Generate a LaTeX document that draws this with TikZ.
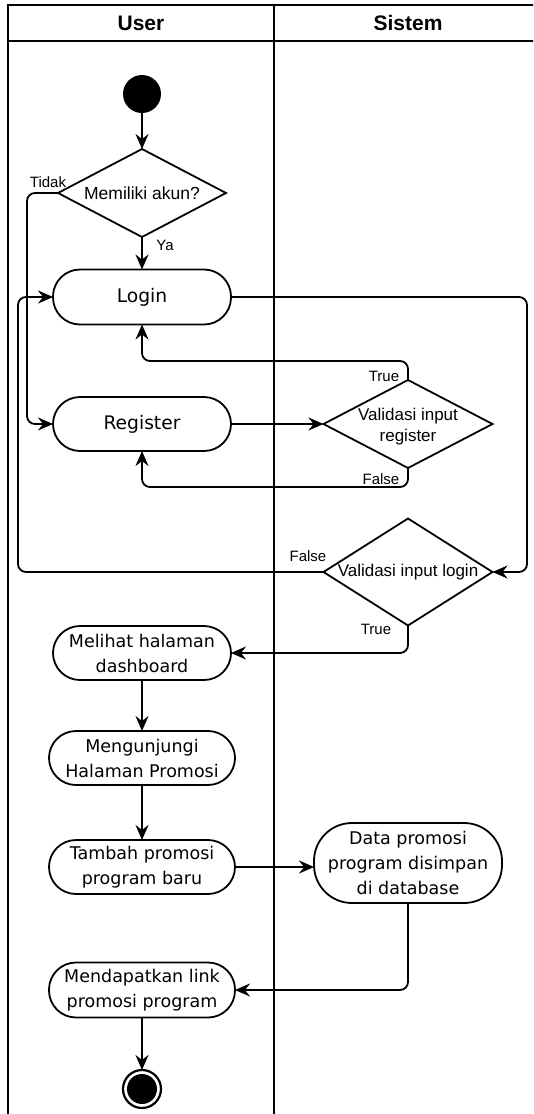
\documentclass[tikz,border=0pt]{standalone}
\usepackage{fontspec}
\setmainfont{Liberation Sans}
\newfontfamily\dejavu{DejaVu Sans}
\usetikzlibrary{arrows.meta}
\begin{document}
\begin{tikzpicture}[x=1pt,y=-1pt,
  line width=1.8pt,
  every node/.style={inner sep=0pt, outer sep=0pt},
  flow/.style={-{Stealth[length=15pt,width=13pt,inset=5pt]}, rounded corners=8pt},
  action/.style={draw, rounded corners=27pt, minimum height=54pt, align=center,
    font=\dejavu\fontsize{17.5}{25}\selectfont},
  bigaction/.style={action, font=\dejavu\fontsize{18.7}{22}\selectfont},
  decision/.style={minimum width=168pt, minimum height=88pt, align=center,
    font=\fontsize{17}{21}\selectfont},
  lbl/.style={font=\fontsize{15}{18}\selectfont},
  head/.style={font=\bfseries\fontsize{21}{25}\selectfont}]

\clip (0,0) rectangle (533,1114);

% swimlane frame
\draw (8,5) rectangle (542,1120);
\draw (8,41) -- (542,41);
\draw (274,5) -- (274,1120);
\node[head] (hUser) at (141,23) {User};
\node[head] (hSistem) at (408,23) {Sistem};

% helper columns for the loop-back connectors
\coordinate (lx) at (27,0);
\coordinate (fx) at (18,0);
\coordinate (rx) at (527,0);

% start
\node[circle, fill=black, minimum size=38pt] (start) at (142,94) {};

% decision: account
\node[decision, font=\fontsize{17.5}{21}\selectfont] (d1) at (142,193) {Memiliki akun?};
\draw (d1.north) -- (d1.east) -- (d1.south) -- (d1.west) -- cycle;

% login / register
\node[bigaction, minimum width=178pt, minimum height=55pt] (login) at (142,297) {Login};
\node[bigaction, minimum width=178pt] (register) at (142,424) {Register};

% decision: register validation
\node[decision, minimum width=169pt] (d2) at (408,424) {};
\draw (d2.north) -- (d2.east) -- (d2.south) -- (d2.west) -- cycle;
\node[decision, minimum width=0pt, minimum height=0pt] (d2text) at ([yshift=-3pt]d2.center) {Validasi input\\register};

% decision: login validation
\node[decision, minimum width=169pt, minimum height=107pt] (d3) at (408,572) {Validasi input login};
\draw (d3.north) -- (d3.east) -- (d3.south) -- (d3.west) -- cycle;

% activities
\node[action, minimum width=178pt] (melihat) at (142,653) {Melihat halaman\\dashboard};
\node[action, minimum width=186pt] (kunjungi) at (142,758) {Mengunjungi\\Halaman Promosi};
\node[action, minimum width=186pt] (tambah) at (142,867) {Tambah promosi\\program baru};
\node[action, minimum width=188pt, minimum height=80pt, rounded corners=38pt] (data) at (408,863) {Data promosi\\program disimpan\\di database};
\node[action, minimum width=186pt, minimum height=55pt] (mend) at (142,990) {Mendapatkan link\\promosi program};

% end
\node[circle, draw, line width=2.2pt, minimum size=38pt] (end) at (142,1089) {};
\fill (end.center) circle (15pt);

% connectors
\draw[flow] (start.south) -- (d1.north);
\draw[flow] (d1.south) -- (login.north);
\draw[flow] (d1.west) -- (d1.west -| lx) -- (register.west -| lx) -- (register.west);
\draw[flow] (login.east) -- (login.east -| rx) -- (d3.east -| rx) -- (d3.east);
\draw[flow] (d3.west) -- (d3.west -| fx) -- (login.west -| fx) -- (login.west);
\draw[flow] (register.east) -- (d2.west);
\draw[flow] (d2.north) -- ++(0,-19) -| (login.south);
\draw[flow] (d2.south) -- ++(0,19) -| (register.south);
\draw[flow] (d3.south) |- (melihat.east);
\draw[flow] (melihat.south) -- (kunjungi.north);
\draw[flow] (kunjungi.south) -- (tambah.north);
\draw[flow] (tambah.east) -- (tambah.east -| data.west);
\draw[flow] (data.south) |- (mend.east);
\draw[flow] (mend.south) -- (end.north);

% guard labels
\node[lbl] (tidak) at (48,182) {Tidak};
\node[lbl] (ya) at (165,245) {Ya};
\node[lbl] (t2) at (384,376) {True};
\node[lbl] (f2) at (381,479) {False};
\node[lbl] (f3) at (308,556) {False};
\node[lbl] (t3) at (376,629) {True};
\end{tikzpicture}
\end{document}
